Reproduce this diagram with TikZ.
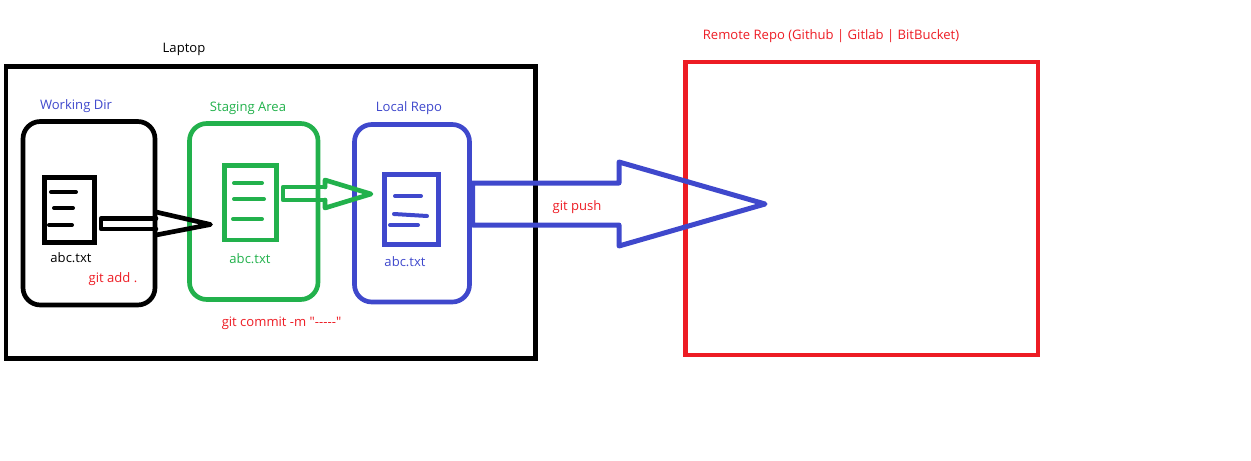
\documentclass[tikz,border=0pt]{standalone}
\usepackage{fontspec}
\newfontfamily\labelfont{Open Sans}
\definecolor{paintred}{HTML}{ED1C24}
\definecolor{paintgreen}{HTML}{22B14C}
\definecolor{paintblue}{HTML}{3F48CC}
\tikzset{
  frame/.style={line width=3.5pt},
  roundbox/.style={line width=3.5pt, rounded corners=13pt},
  docline/.style={line width=3pt, line cap=round},
  label/.style={font=\labelfont\fontsize{9.8pt}{12pt}\selectfont, inner sep=0pt},
  fatarrow/.style={line width=3.5pt, line join=round, line cap=round}
}
\begin{document}
\begin{tikzpicture}[x=0.75pt, y=-0.75pt]
  \useasboundingbox (0,0) rectangle (1251,460);
  % laptop and remote frames
  \draw [frame] (6,66.5) rectangle (535.5,358.5);
  \draw [paintred, frame] (685.5,62) rectangle (1038,355);
  % working dir
  \draw [roundbox] (23,121.5) rectangle (155,305);
  \draw [frame] (44.5,177.5) rectangle (94.5,242.5);
  \draw [docline] (51,192) -- (76,192);
  \draw [docline] (54,208) -- (73,208);
  \draw [docline] (49,225) -- (72,225);
  % staging area
  \draw [paintgreen, roundbox] (189.5,123.5) rectangle (318,299.5);
  \draw [paintgreen, frame] (224.5,165.5) rectangle (276.5,240);
  \draw [paintgreen, docline] (234,183) -- (262,183);
  \draw [paintgreen, docline] (234,199) -- (264,199);
  \draw [paintgreen, docline] (233,219) -- (262,219);
  % local repo
  \draw [paintblue, roundbox] (354.5,124.5) rectangle (469.5,302);
  \draw [paintblue, frame] (384.5,174.5) rectangle (438.5,244.5);
  \draw [paintblue, docline] (395,196) -- (421,196);
  \draw [paintblue, docline] (394,214) -- (427,216);
  \draw [paintblue, docline] (390,225) -- (418,225);
  % add, commit and push arrows
  \draw [fatarrow] (156,218.5) -- (101,218.5) -- (101,229) -- (156,229);
  \draw [fatarrow] (156,212) -- (210.5,224.5) -- (156,235);
  \draw [paintgreen, fatarrow] (325,187) -- (283,187) -- (283,200) -- (325,200);
  \draw [paintgreen, fatarrow] (325,187) -- (325,180) -- (371,194) -- (325,208) -- (325,200);
  \draw [paintblue, fatarrow, line width=3.75pt] (472.5,183) -- (619,183) -- (619,162) -- (765,204) -- (619,246) -- (619,225) -- (472.5,225) -- cycle;
  % labels
  \node [label] (laptop) at (184,49) {Laptop};
  \node [label, text=paintred] (remote) at (831,36) {Remote Repo (Github | Gitlab | BitBucket)};
  \node [label, text=paintblue] (workdir) at (76,106) {Working Dir};
  \node [label, text=paintgreen] (staging) at (248,108) {Staging Area};
  \node [label, text=paintblue] (localrepo) at (409,108) {Local Repo};
  \node [label] (file1) at (71,258) {abc.txt};
  \node [label, text=paintgreen] (file2) at (250,259) {abc.txt};
  \node [label, text=paintblue] (file3) at (405,262) {abc.txt};
  \node [label, text=paintred] (add) at (113,279) {git add .};
  \node [label, text=paintred] (commit) at (281.5,323) {git commit -m "-----"};
  \node [label, text=paintred] (push) at (577,207) {git push};
\end{tikzpicture}
\end{document}
